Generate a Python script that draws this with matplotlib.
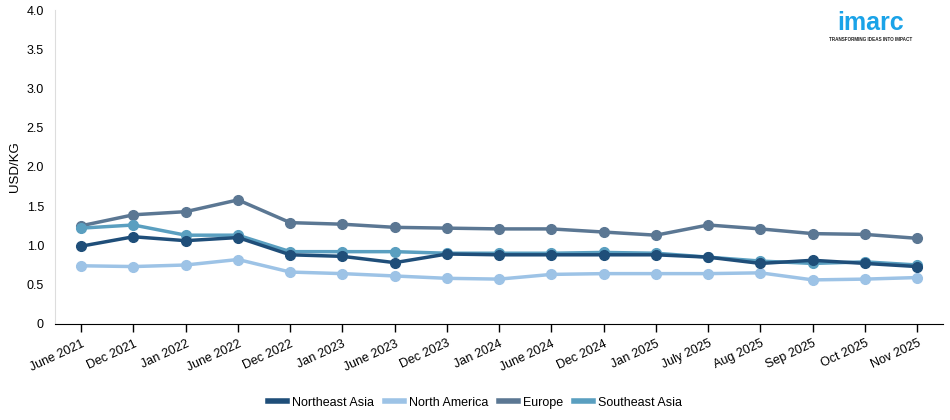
import numpy as np
import matplotlib
matplotlib.use('Agg')
import matplotlib.pyplot as plt

# tick labels and series
months = ['June 2021', 'Dec 2021', 'Jan 2022', 'June 2022', 'Dec 2022', 'Jan 2023',
          'June 2023', 'Dec 2023', 'Jan 2024', 'June 2024', 'Dec 2024', 'Jan 2025',
          'July 2025', 'Aug 2025', 'Sep 2025', 'Oct 2025', 'Nov 2025']

northeast_asia = [0.99, 1.11, 1.06, 1.10, 0.88, 0.86, 0.78, 0.89, 0.88, 0.88,
                  0.88, 0.88, 0.85, 0.77, 0.81, 0.77, 0.73]
north_america = [0.74, 0.73, 0.75, 0.82, 0.66, 0.64, 0.61, 0.58, 0.57, 0.63,
                 0.64, 0.64, 0.64, 0.65, 0.56, 0.57, 0.59]
europe = [1.25, 1.39, 1.43, 1.58, 1.29, 1.27, 1.23, 1.22, 1.21, 1.21,
          1.17, 1.13, 1.26, 1.21, 1.15, 1.14, 1.09]
southeast_asia = [1.22, 1.26, 1.13, 1.13, 0.92, 0.92, 0.92, 0.90, 0.90, 0.90,
                  0.91, 0.90, 0.85, 0.80, 0.77, 0.79, 0.75]

# name, values, colour, zorder (dark line sits on top in the reference)
series = [('Northeast Asia', northeast_asia, '#1f4e79', 5),
          ('North America', north_america, '#9dc3e6', 3),
          ('Europe', europe, '#5b7793', 3),
          ('Southeast Asia', southeast_asia, '#5a9fc0', 4)]

plt.rcParams['font.family'] = ['Liberation Sans', 'DejaVu Sans']

fig = plt.figure(figsize=(9.5, 4.2), dpi=100)
ax = fig.add_axes([0.058, 0.229, 0.935, 0.747])

x = np.arange(len(months))
for name, vals, col, z in series:
    ax.plot(x, vals, color=col, lw=2.5, marker='o', ms=7, label=name, zorder=z)

ax.set_xlim(-0.5, len(months) - 0.5)
ax.set_ylim(0, 4)
ax.set_yticks(np.arange(0, 4.01, 0.5))
ax.set_yticklabels(['0', '0.5', '1.0', '1.5', '2.0', '2.5', '3.0', '3.5', '4.0'])
ax.set_xticks(x)
ax.set_xticklabels(months, rotation=25, ha='right', rotation_mode='anchor')
ax.tick_params(axis='x', direction='out', length=6, width=1, colors='black', labelsize=9, pad=4)
ax.tick_params(axis='y', length=0, labelsize=9, pad=8)
ax.set_ylabel('USD/KG', fontsize=9.5)

for s in ['top', 'right']:
    ax.spines[s].set_visible(False)
ax.spines['left'].set_color('#dddddd')
ax.spines['bottom'].set_color('black')

leg = fig.legend(loc='lower center', bbox_to_anchor=(0.5, 0.0), ncol=4, frameon=False,
                 fontsize=9, handlelength=1.5, handletextpad=0.4, columnspacing=0.9)
for h in leg.legend_handles:
    h.set_marker('')
    h.set_linewidth(4)

# logo
fig.text(0.916, 0.945, 'imarc', color='#1aa3e8', fontsize=18, fontweight='bold',
         ha='center', va='center')
fig.text(0.916, 0.905, 'TRANSFORMING IDEAS INTO IMPACT', color='#222222', fontsize=3.3,
         fontweight='bold', ha='center', va='center')

fig.savefig('out.png', dpi=100)
